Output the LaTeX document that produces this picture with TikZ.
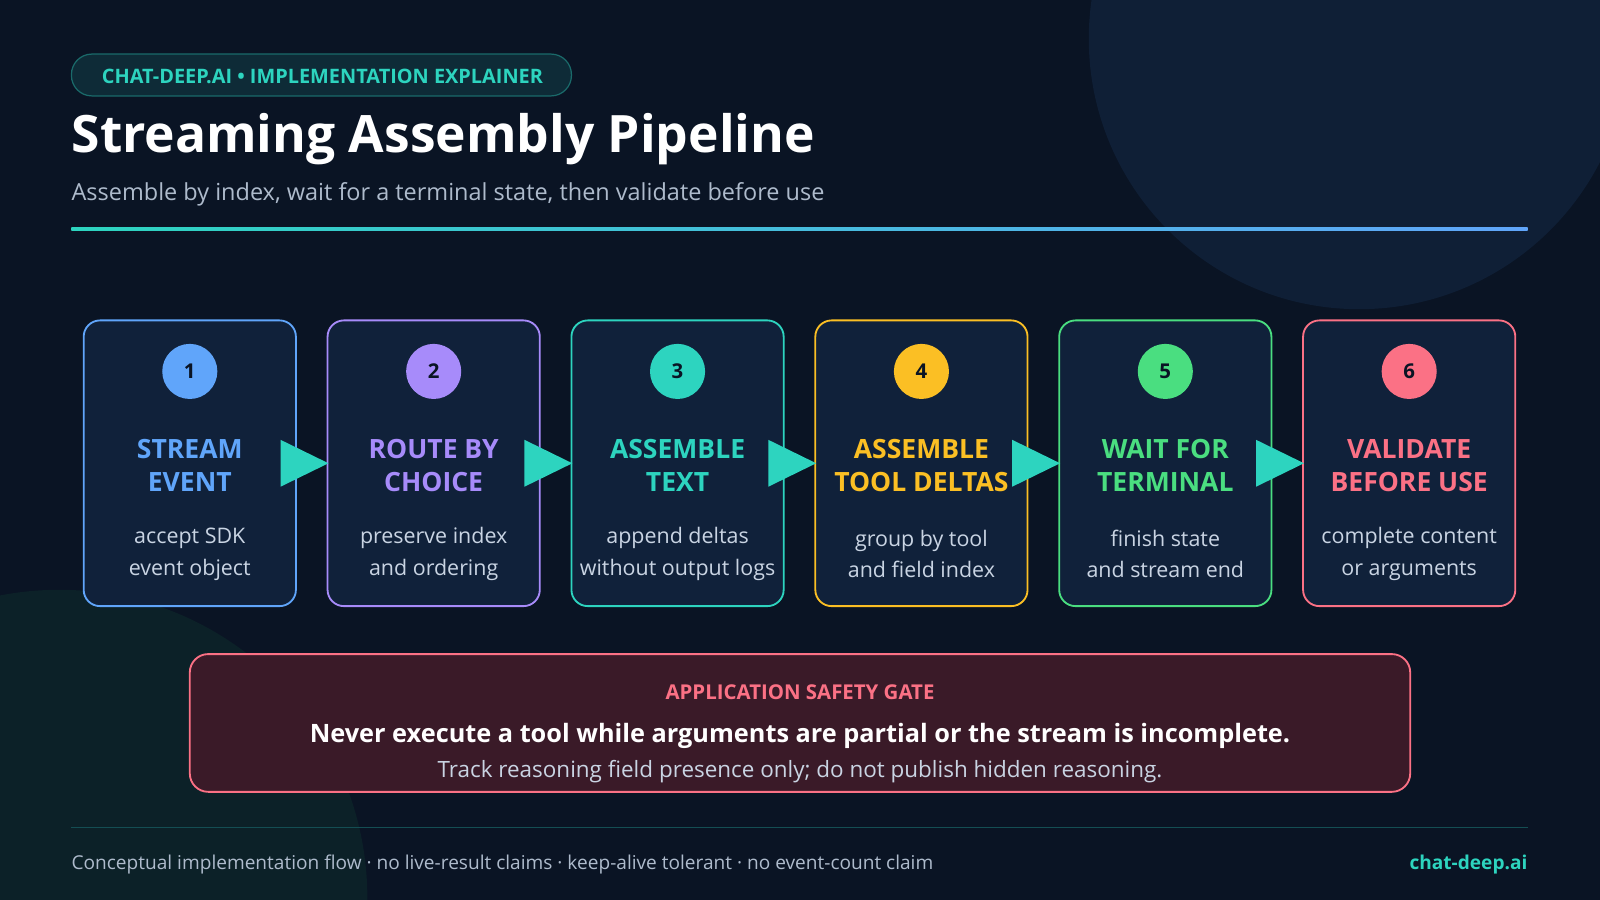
\documentclass[tikz,border=0pt]{standalone}
\usepackage{fontspec}
\setmainfont{Open Sans}
\definecolor{bg}{HTML}{0A1424}
\definecolor{bgc}{HTML}{0F1F36}
\definecolor{bgd}{HTML}{0C2128}
\definecolor{boxf}{HTML}{10213A}
\definecolor{cA}{HTML}{60A5FA}
\definecolor{cB}{HTML}{A78BFA}
\definecolor{cC}{HTML}{2DD4BF}
\definecolor{cD}{HTML}{FBBF24}
\definecolor{cE}{HTML}{4ADE80}
\definecolor{cF}{HTML}{FB7185}
\definecolor{txt}{HTML}{C9D4E3}
\definecolor{sub}{HTML}{AEBBCC}
\definecolor{gatef}{HTML}{3A1A28}
\begin{document}
\begin{tikzpicture}[x=1pt,y=-1pt,
 stage/.style={draw=#1,line width=1.8pt,rounded corners=16pt,fill=boxf,minimum width=208pt,minimum height=280pt,inner sep=0pt},
 num/.style={circle,fill=#1,minimum size=54pt,inner sep=0pt,font=\fontsize{20}{20}\selectfont\bfseries,text=bg},
 ttl/.style={text=#1,font=\fontsize{26}{32}\selectfont\bfseries,align=center},
 dsc/.style={text=txt,font=\fontsize{21}{31}\selectfont,align=center},
 arr/.style={fill=cC}]
\fill[bg] (0,0) rectangle (1568,882);
\useasboundingbox (0,0) rectangle (1568,882);
\begin{scope}
\clip (0,0) rectangle (1568,882);
\fill[bgc] (1332,38) circle (265);
\fill[bgd] (58,880) circle (302);
\end{scope}
\node[draw=cC!45!bg,fill=cC!12!bg,line width=1.2pt,rounded corners=20pt,minimum width=490pt,minimum height=41pt] (pill) at (315,73.5) {};
\node[text=cC,font=\fontsize{19.5}{19.5}\selectfont\bfseries] (pillt) at (316,75) {CHAT-DEEP.AI • IMPLEMENTATION EXPLAINER};
\node[anchor=west,text=white,font=\fontsize{50.5}{50.5}\selectfont\bfseries,inner sep=0pt] (title) at (70,136) {Streaming Assembly Pipeline};
\node[anchor=west,text=sub,font=\fontsize{23}{23}\selectfont,inner sep=0pt] (subt) at (70,190) {Assemble by index, wait for a terminal state, then validate before use};
\shade[left color=cC,right color=cA] (70,223) rectangle (1497,226);
\foreach \i/\x/\c/\n/\ta/\tb/\da/\db in {
 1/186/cA/1/STREAM/EVENT/accept SDK/event object,
 2/425/cB/2/ROUTE BY/CHOICE/preserve index/and ordering,
 3/664/cC/3/ASSEMBLE/TEXT/append deltas/without output logs,
 4/903/cD/4/ASSEMBLE/TOOL DELTAS/group by tool/and field index,
 5/1142/cE/5/WAIT FOR/TERMINAL/finish state/and stream end,
 6/1381/cF/6/VALIDATE/BEFORE USE/complete content/or arguments}{
 \node[stage=\c] (s\i) at (\x,454) {};
 \node[num=\c] (n\i) at (\x,364) {\n};
 \node[ttl=\c] (t\i) at (\x,456) {\ta\\\tb};
 \node[dsc] (d\i) at (\x,543) {\da\\\db};
}
\foreach \a/\b in {1/2,2/3,3/4,4/5,5/6}{
 \fill[arr] ([xshift=-16pt,yshift=-23pt]s\a.east) -- ([xshift=31pt]s\a.east) -- ([xshift=-16pt,yshift=23pt]s\a.east) -- cycle;
}
\node[draw=cF,fill=gatef,line width=1.8pt,rounded corners=18pt,minimum width=1196pt,minimum height=135pt] (gate) at (784,708.5) {};
\node[text=cF,font=\fontsize{20}{20}\selectfont\bfseries] (g1) at (784,678) {APPLICATION SAFETY GATE};
\node[text=white,font=\fontsize{24.8}{24.8}\selectfont\bfseries] (g2) at (784,721) {Never execute a tool while arguments are partial or the stream is incomplete.};
\node[text=txt,font=\fontsize{22}{22}\selectfont] (g3) at (784,756) {Track reasoning field presence only; do not publish hidden reasoning.};
\draw[cC!30!bg,line width=1.2pt] (70,811) -- (1497,811);
\node[anchor=west,text=sub,font=\fontsize{18.7}{18.7}\selectfont,inner sep=0pt] (foot) at (70,847) {Conceptual implementation flow · no live-result claims · keep-alive tolerant · no event-count claim};
\node[anchor=east,text=cC,font=\fontsize{18.7}{18.7}\selectfont\bfseries,inner sep=0pt] (site) at (1497,847) {chat-deep.ai};
\end{tikzpicture}
\end{document}
